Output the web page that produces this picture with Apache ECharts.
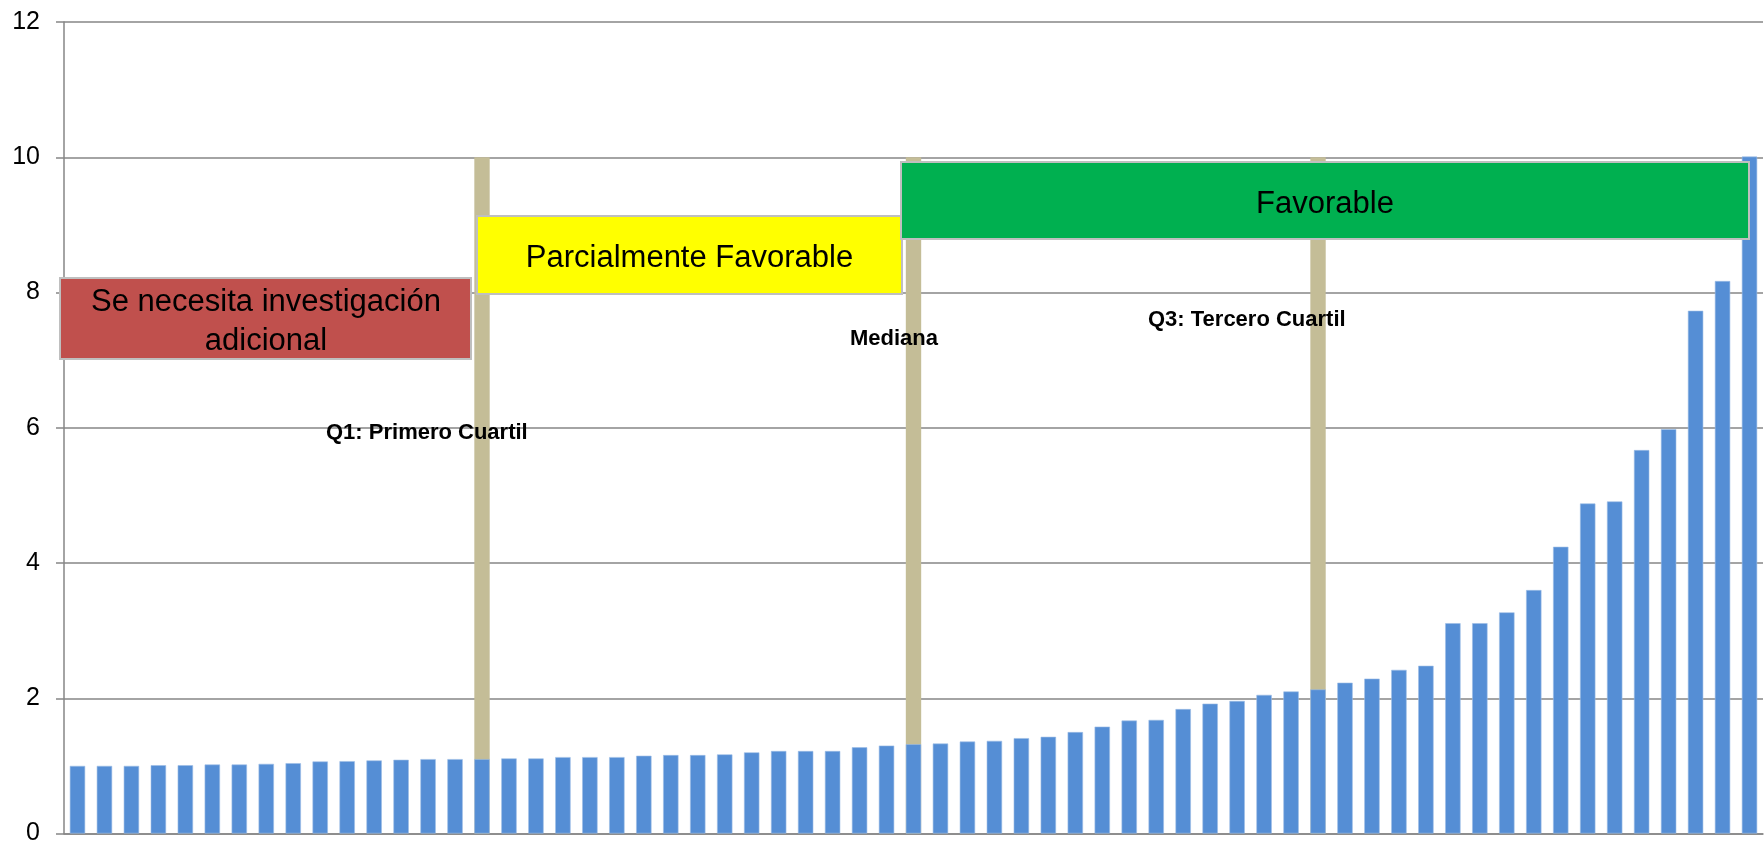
<!DOCTYPE html>
<html>
<head>
<meta charset="utf-8">
<script src="https://cdn.jsdelivr.net/npm/echarts@6/dist/echarts.min.js"></script>
<style>
html,body{margin:0;padding:0;background:#fff;}
#chart{width:1764px;height:846px;}
</style>
</head>
<body>
<div id="chart"></div>
<script>
// ---- data ----
var values = [1.00,1.00,1.00,1.01,1.01,1.02,1.02,1.03,1.04,1.065,
              1.07,1.08,1.09,1.10,1.10,1.10,1.11,1.11,1.13,1.13,
              1.13,1.15,1.16,1.16,1.17,1.20,1.22,1.22,1.22,1.275,
              1.30,1.32,1.33,1.36,1.37,1.41,1.43,1.50,1.58,1.67,
              1.68,1.84,1.92,1.96,2.05,2.10,2.13,2.23,2.29,2.42,
              2.48,3.11,3.11,3.27,3.60,4.24,4.88,4.91,5.67,5.98,
              7.73,8.17,10.01];
var categories = values.map(function(_, i){ return String(i + 1); });
var markerCategories = ['16', '32', '47'];   // Q1, Mediana, Q3
var markerValue = 10;
var yMin = 0, yMax = 12, yInterval = 2;
var boxTexts = ['Se necesita investigación\nadicional', 'Parcialmente Favorable', 'Favorable'];
var markerTexts = ['Q1: Primero Cuartil', 'Mediana', 'Q3: Tercero Cuartil'];

var markerData = categories.map(function(c){
  return markerCategories.indexOf(c) >= 0 ? markerValue : null;
});

var FONT = '"Liberation Sans", Arial, sans-serif';
var chart = echarts.init(document.getElementById('chart'));
var boxStroke = '#BFBFBF';

chart.setOption({
  animation: false,
  backgroundColor: '#ffffff',
  grid: { left: 64, right: 1, top: 22, bottom: 8, containLabel: false },
  xAxis: {
    type: 'category',
    data: categories,
    axisLine: { show: true, lineStyle: { color: '#868686', width: 1.5 } },
    axisTick: { show: false },
    axisLabel: { show: false },
    splitLine: { show: false }
  },
  yAxis: {
    type: 'value',
    min: yMin, max: yMax, interval: yInterval,
    axisLine: { show: true, lineStyle: { color: '#868686', width: 1.5 } },
    axisTick: { show: true, inside: false, length: 8, lineStyle: { color: '#868686', width: 1.5 } },
    axisLabel: { color: '#000', fontSize: 25, fontFamily: FONT, margin: 24 },
    splitLine: { show: true, lineStyle: { color: '#868686', width: 1.5 } }
  },
  series: [
    {
      name: 'marker', type: 'bar', data: markerData,
      barWidth: '57%', barGap: '-100%', z: 1,
      itemStyle: { color: '#C4BD97' }
    },
    {
      name: 'valor', type: 'bar', data: values,
      barWidth: '57%', z: 2,
      itemStyle: { color: '#558ED5', borderColor: '#9DBDE6', borderWidth: 0.6 }
    }
  ],
  graphic: [
    { type: 'rect', z: 10, shape: { x: 60, y: 278, width: 411, height: 81 },
      style: { fill: '#C0504D', stroke: boxStroke, lineWidth: 2 } },
    { type: 'text', z: 11, x: 266, y: 322,
      style: { text: boxTexts[0], font: '31px ' + FONT, fill: '#000', align: 'center', verticalAlign: 'middle', lineHeight: 39 } },
    { type: 'rect', z: 10, shape: { x: 477, y: 216, width: 425, height: 78 },
      style: { fill: '#FFFF00', stroke: boxStroke, lineWidth: 2 } },
    { type: 'text', z: 11, x: 689.5, y: 258,
      style: { text: boxTexts[1], font: '31px ' + FONT, fill: '#000', align: 'center', verticalAlign: 'middle' } },
    { type: 'rect', z: 10, shape: { x: 901, y: 162, width: 848, height: 77 },
      style: { fill: '#00B050', stroke: boxStroke, lineWidth: 2 } },
    { type: 'text', z: 11, x: 1325, y: 204,
      style: { text: boxTexts[2], font: '31px ' + FONT, fill: '#000', align: 'center', verticalAlign: 'middle' } },
    { type: 'text', z: 11, x: 326, y: 433,
      style: { text: markerTexts[0], font: 'bold 22px ' + FONT, fill: '#000', align: 'left', verticalAlign: 'middle' } },
    { type: 'text', z: 11, x: 850, y: 339,
      style: { text: markerTexts[1], font: 'bold 22px ' + FONT, fill: '#000', align: 'left', verticalAlign: 'middle' } },
    { type: 'text', z: 11, x: 1148, y: 320,
      style: { text: markerTexts[2], font: 'bold 22px ' + FONT, fill: '#000', align: 'left', verticalAlign: 'middle' } }
  ]
});
</script>
</body>
</html>
